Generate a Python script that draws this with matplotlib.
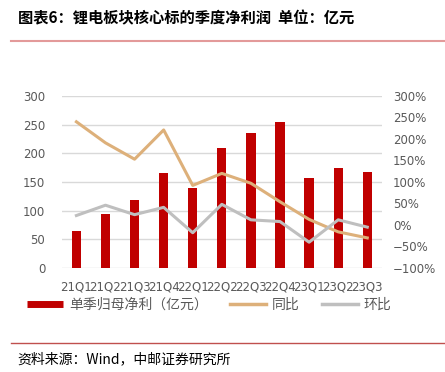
import numpy as np
import matplotlib.pyplot as plt
from matplotlib.lines import Line2D

plt.rcParams['font.family'] = ['Noto Sans CJK SC', 'DejaVu Sans']

# 数据
quarters = ["21Q1", "21Q2", "21Q3", "21Q4", "22Q1", "22Q2",
            "22Q3", "22Q4", "23Q1", "23Q2", "23Q3"]
profit = [64, 94, 118, 166, 140, 209, 235, 255, 157, 175, 167]
yoy = [240, 191, 153, 221, 92, 120, 97, 54, 13, -16, -30]
qoq = [22, 46, 24, 41, -18, 48, 12, 8, -40, 12, -5]

RED = "#C00000"
TAN = "#DDB07A"
GRAY = "#BFBFBF"
TXT = "#595959"

fig = plt.figure(figsize=(4.45, 3.72), dpi=100)
ax = fig.add_axes([0.139, 0.2796, 0.719, 0.4624])
ax2 = ax.twinx()

x = np.arange(len(quarters))
ax.bar(x, profit, width=0.32, color=RED, zorder=2)
ax.set_ylim(0, 300)
ax.set_yticks(range(0, 301, 50))
ax.set_xlim(-0.5, len(quarters) - 0.5)
ax.set_xticks(x)
ax.set_xticklabels(quarters, fontsize=8.5, color=TXT, family="DejaVu Sans")
ax.tick_params(axis="y", labelsize=8.5, labelcolor=TXT, length=0, pad=12)
ax.tick_params(axis="x", length=0, pad=9)
for lab in ax.get_yticklabels():
    lab.set_family("DejaVu Sans")
ax.grid(axis="y", color="#D9D9D9", linewidth=1, zorder=0)
ax.set_axisbelow(True)

ax2.plot(x, yoy, color=TAN, linewidth=2.2, zorder=3)
ax2.plot(x, qoq, color=GRAY, linewidth=2.2, zorder=3)
ax2.set_ylim(-100, 300)
rt = list(range(-100, 301, 50))
ax2.set_yticks(rt)
ax2.set_yticklabels([f"{v}%".replace("-", "\u2212") for v in rt],
                    fontsize=8.5, color=TXT, family="DejaVu Sans")
ax2.tick_params(axis="y", length=0, pad=8)

for a in (ax, ax2):
    for s in a.spines.values():
        s.set_visible(False)

handles = [Line2D([0], [0], color=RED, linewidth=5, solid_capstyle="butt"),
           Line2D([0], [0], color=TAN, linewidth=2.5),
           Line2D([0], [0], color=GRAY, linewidth=2.5)]
fig.legend(handles, ["单季归母净利（亿元）", "同比", "环比"],
           loc="center", bbox_to_anchor=(0.47, 0.18), ncol=3, frameon=False,
           fontsize=10, handlelength=2.6, columnspacing=1.6, handletextpad=0.4,
           labelcolor=TXT)

fig.text(0.04, 0.95, "图表6：锂电板块核心标的季度净利润  单位：亿元",
         fontsize=11, fontweight="bold", va="center", ha="left")
fig.add_artist(Line2D([0.025, 1.0], [0.889, 0.889], color="#E39A9A", linewidth=1.5))
fig.add_artist(Line2D([0.025, 1.0], [0.078, 0.078], color="#C0504D", linewidth=1))
fig.text(0.04, 0.035, "资料来源：Wind，中邮证券研究所",
         fontsize=10, va="center", ha="left")

fig.savefig("out.png", dpi=100)
